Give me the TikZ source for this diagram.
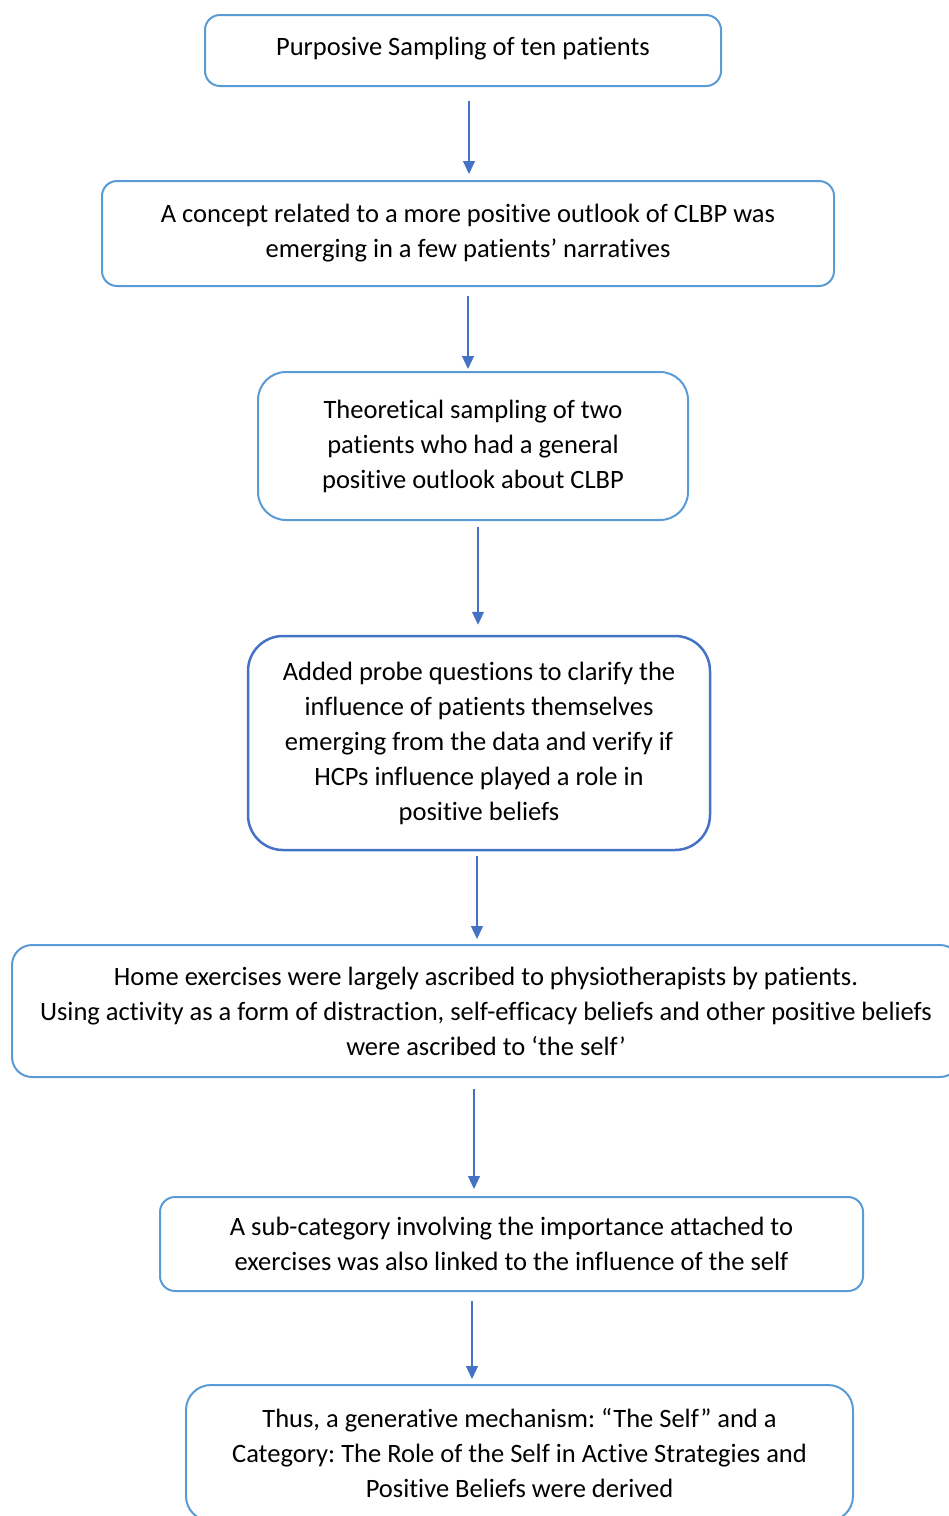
\documentclass[tikz,border=0pt]{standalone}
\usepackage{fontspec}
\setmainfont[Ligatures=NoCommon]{Carlito}
\frenchspacing
\usetikzlibrary{arrows.meta, positioning}
\definecolor{BoxBlue}{RGB}{91,155,213}
\definecolor{LineBlue}{RGB}{68,114,196}
\tikzset{%
  flow_block/.style={%
    draw=BoxBlue,%
    rectangle,%
    rounded corners=15pt,%
    line width=2pt,%
    inner sep=0pt,%
    font={\fontsize{26.5}{35}\selectfont},%
    align=center,%
  },
  strong_block/.style={%
    flow_block,%
    draw=LineBlue,%
    line width=2.5pt,%
  },
  flow_path/.style={%
    color=LineBlue,%
    line join=round,%
    line width=1.2pt,%
  },
  arrow/.style={-{Triangle[length=13pt, width=12pt]}},
}

\begin{document}
\begin{tikzpicture}[x=1pt, y=-1pt]

    \useasboundingbox (0, 0) rectangle (949, 1516);
    \clip (0, 0) rectangle (949, 1516);

    \node [flow_block, minimum width=516, minimum height=71]
      (Sampling) at (463, 50.5) {%
      \raisebox{2pt}[\height][\depth]{Purposive Sampling of ten patients}%
    };
    \node [flow_block, minimum width=732, minimum height=105]
      (Concept) at (468, 233.5) {%
      A concept related to a more positive outlook of CLBP was\\
      emerging in a few patients’ narratives%
    };
    \node [flow_block, rounded corners=28pt, minimum width=430, minimum height=148]
      (Theoretical) at (473, 446) {%
      Theoretical sampling of two\\
      patients who had a general\\
      positive outlook about CLBP%
    };
    \node [strong_block, rounded corners=35pt, minimum width=462, minimum height=214]
      (Probe) at (479, 743) {%
      Added probe questions to clarify the\\
      influence of patients themselves\\
      emerging from the data and verify if\\
      HCPs influence played a role in\\
      positive beliefs%
    };
    \node [flow_block, rounded corners=20pt, minimum width=948, minimum height=132]
      (Ascribed) at (486, 1011) {%
      Home exercises were largely ascribed to physiotherapists by patients.\\
      Using activity as a form of distraction, self-efficacy beliefs and other positive beliefs\\
      were ascribed to ‘the self’%
    };
    \node [flow_block, minimum width=703, minimum height=94]
      (Subcategory) at (511.5, 1244) {%
      A sub-category involving the importance attached to\\
      exercises was also linked to the influence of the self%
    };
    \node [flow_block, rounded corners=25pt, minimum width=667, minimum height=136]
      (Mechanism) at (519.5, 1453) {%
      Thus, a generative mechanism: “The Self” and a\\
      Category: The Role of the Self in Active Strategies and\\
      Positive Beliefs were derived%
    };

    \draw [arrow, flow_path]
      ([xshift=6pt, yshift=-14pt]Sampling.south)
      --
      ([xshift=1pt, yshift=6pt]Concept.north);
    \draw [arrow, flow_path]
      ([yshift=-9pt]Concept.south)
      --
      ([xshift=-5pt, yshift=2pt]Theoretical.north);
    \draw [arrow, flow_path]
      ([xshift=5pt, yshift=-6pt]Theoretical.south)
      --
      ([xshift=-1pt, yshift=10pt]Probe.north);
    \draw [arrow, flow_path]
      ([xshift=-2pt, yshift=-5pt]Probe.south)
      --
      ([xshift=-9pt, yshift=5pt]Ascribed.north);
    \draw [arrow, flow_path]
      ([xshift=-12pt, yshift=-11pt]Ascribed.south)
      --
      ([xshift=-37.5pt, yshift=7pt]Subcategory.north);
    \draw [arrow, flow_path]
      ([xshift=-39.5pt, yshift=-9pt]Subcategory.south)
      --
      ([xshift=-47.5pt, yshift=5pt]Mechanism.north);
  \end{tikzpicture}
\end{document}
